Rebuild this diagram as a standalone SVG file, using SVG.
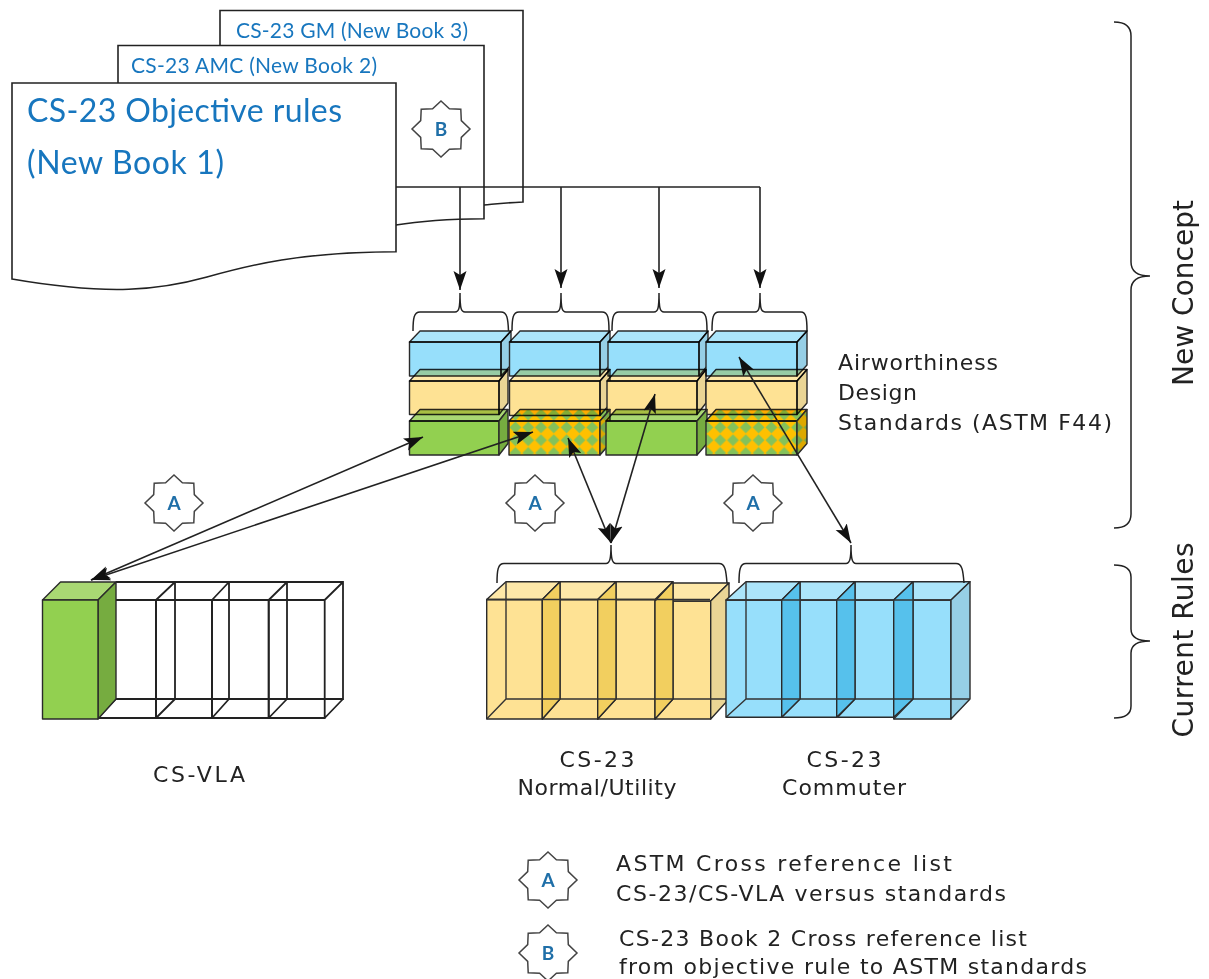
<svg xmlns="http://www.w3.org/2000/svg" width="1209" height="979" viewBox="0 0 1209 979">
<style>
.e{stroke:#2a2a2a;stroke-width:1.4;stroke-linejoin:round}
.h{fill:none;stroke:#333;stroke-width:1.4}
.wf{fill:none;stroke:#222;stroke-width:1.8}
.doc{fill:#fff;stroke:#222;stroke-width:1.6}
.br{fill:none;stroke:#222;stroke-width:1.5}
.yf{fill:#FEE294}.yt{fill:#FEE8A8}.ys{fill:#EAD595}.yx{fill:#F2CF5F}
.bf{fill:#97DFFB}.bt{fill:#ACE5FA}.bs{fill:#96CFE6}.bx{fill:#56C1EC}
.gf{fill:#92D050}.gt{fill:#A9D873}.gs{fill:#76AC40}
.pf{fill:url(#chk)}.ps{fill:url(#chkd)}
.m{mix-blend-mode:multiply}
.star{fill:#fff;stroke:#444;stroke-width:1.5;stroke-linejoin:miter}
.sl{font-family:"Lato","Liberation Sans",sans-serif;font-weight:700;font-size:19px;fill:#1F6FA8;text-anchor:middle}
.bk{font-family:"Lato","Liberation Sans",sans-serif;fill:#1776BE}
.t{font-family:"DejaVu Sans","Liberation Sans",sans-serif;font-size:22px;fill:#222}
.v{font-size:28px}
.c{text-anchor:middle}
.con{fill:none;stroke:#222;stroke-width:1.6}
</style>
<defs>
<pattern id="chk" width="12.8" height="12.8" patternUnits="userSpaceOnUse" x="509" y="421"><rect width="12.8" height="12.8" fill="#FFC000"/><polygon points="6.4,0.5 12.3,6.4 6.4,12.3 0.5,6.4" fill="#84C25A"/></pattern>
<pattern id="chkd" width="12.8" height="12.8" patternUnits="userSpaceOnUse" x="509" y="421"><rect width="12.8" height="12.8" fill="#DDA800"/><polygon points="6.4,0.5 12.3,6.4 6.4,12.3 0.5,6.4" fill="#74A84C"/></pattern>
<marker id="ah" markerUnits="userSpaceOnUse" markerWidth="20" markerHeight="14" viewBox="0 0 20 14" refX="19" refY="7" orient="auto-start-reverse"><path d="M0,0.5 L19,7 L0,13.5 L4,7 Z" fill="#111"/></marker>
<polygon id="s8" points="0,-28 8.4,-20.3 19.8,-19.8 20.3,-8.4 29,0 20.3,8.4 19.8,19.8 8.4,20.3 0,28 -8.4,20.3 -19.8,19.8 -20.3,8.4 -29,0 -20.3,-8.4 -19.8,-19.8 -8.4,-20.3"/>
</defs>

<g id="book3"><path class="doc" d="M220,10.500H523V202C500,203 495,204 484,205H220Z"/><text class="bk" x="236" y="38" font-size="21" textLength="232">CS-23 GM (New Book 3)</text></g>
<g id="book2"><path class="doc" d="M118,45.500H484V218.700C450,219 420,221 396,225H118Z"/><text class="bk" x="131" y="73" font-size="21" textLength="246">CS-23 AMC (New Book 2)</text></g>
<g id="star-b"><use href="#s8" class="star" x="441" y="129"/><text class="sl" x="441" y="136">B</text></g>
<g id="book1"><path class="doc" d="M12,83H396V251.700C300,252 250,265 207,277C160,290 110,296 12,279Z"/>
<text class="bk" x="27" y="122" font-size="32" textLength="315">CS-23 Objective rules</text><text class="bk" x="27" y="174" font-size="32" textLength="197">(New Book 1)</text></g>

<g id="standards">
<g id="b1"><rect class="e bf" x="409.500" y="342" width="91.500" height="34"/><polygon class="e bt m" points="409.500,342 501,342 511,331 420,331"/><polygon class="e bs m" points="501,342 511,331 511,365 501,376"/></g>
<g id="b2"><rect class="e bf" x="509.500" y="342" width="90.500" height="34"/><polygon class="e bt m" points="509.500,342 600,342 610,331 520,331"/><polygon class="e bs m" points="600,342 610,331 610,365 600,376"/></g>
<g id="b3"><rect class="e bf" x="608" y="342" width="91" height="34"/><polygon class="e bt m" points="608,342 699,342 708,331 618,331"/><polygon class="e bs m" points="699,342 708,331 708,365 699,376"/></g>
<g id="b4"><rect class="e bf" x="706" y="342" width="91" height="34"/><polygon class="e bt m" points="706,342 797,342 807,331 716,331"/><polygon class="e bs m" points="797,342 807,331 807,365 797,376"/></g>
<g id="y1"><rect class="e yf" x="409.500" y="381" width="89.500" height="33.500"/><polygon class="e yt m" points="409.500,381 499,381 508,369.500 420,369.500"/><polygon class="e ys m" points="499,381 508,369.500 508,403 499,414.500"/></g>
<g id="y2"><rect class="e yf" x="509.500" y="381" width="90.500" height="34.500"/><polygon class="e yt m" points="509.500,381 600,381 610,369.500 520,369.500"/><polygon class="e ys m" points="600,381 610,369.500 610,404 600,415.500"/></g>
<g id="y3"><rect class="e yf" x="607" y="381" width="90" height="33.500"/><polygon class="e yt m" points="607,381 697,381 706,369.500 617,369.500"/><polygon class="e ys m" points="697,381 706,369.500 706,403 697,414.500"/></g>
<g id="y4"><rect class="e yf" x="706" y="381" width="91" height="33.500"/><polygon class="e yt m" points="706,381 797,381 807,369.500 716,369.500"/><polygon class="e ys m" points="797,381 807,369.500 807,403 797,414.500"/></g>
<g id="g1"><rect class="e gf" x="409.500" y="421" width="89.500" height="34"/><polygon class="e gt m" points="409.500,421 499,421 508,409.500 420,409.500"/><polygon class="e gs" points="499,421 508,409.500 508,443.500 499,455"/></g>
<g id="p2"><rect class="e pf" x="509" y="421" width="91" height="34"/><polygon class="e pf m" points="509,421 600,421 610,409.500 520,409.500"/><polygon class="e ps" points="600,421 610,409.500 610,443.500 600,455"/></g>
<g id="g3"><rect class="e gf" x="606" y="421" width="91" height="34"/><polygon class="e gt m" points="606,421 697,421 707,409.500 616,409.500"/><polygon class="e gs" points="697,421 707,409.500 707,443.500 697,455"/></g>
<g id="p4"><rect class="e pf" x="706" y="421" width="91" height="34"/><polygon class="e pf m" points="706,421 797,421 807,409.500 716,409.500"/><polygon class="e ps" points="797,421 807,409.500 807,443.500 797,455"/></g>
</g>

<g id="top-braces">
<path class="br" d="M413,331C413,318 414,312 420,312H455C459,312 460,308 460,293C460,308 461,312 465,312H501C507,312 508,318 508.500,331"/>
<path class="br" d="M512,331C512,318 513,312 519,312H556C560,312 561,308 561,293C561,308 562,312 566,312H602C608,312 609,318 609,331"/>
<path class="br" d="M612,331C612,318 613,312 619,312H654C658,312 659,308 659,293C659,308 660,312 664,312H700C706,312 707,318 707,331"/>
<path class="br" d="M712,331C712,318 713,312 719,312H755C759,312 760,308 760,293C760,308 761,312 765,312H801C806,312 807,318 807,331"/>
</g>

<g id="vla">
<g id="vla4"><path class="wf" d="M268.700,600H324.700V718H268.700ZM287,582H343V699H287ZM324.700,600L343,582M324.700,718L343,699M268.700,600L287,582M268.700,718L287,699"/></g>
<g id="vla3"><path class="wf" d="M212,600H268.700V718H212ZM229,582H287M229,582V699H287M212,600L229,582M212,718L229,699"/></g>
<g id="vla2"><path class="wf" d="M156,600H212V718H156ZM175,582H229M175,582V699H229M156,600L175,582M156,718L175,699"/></g>
<g id="vla1"><path class="wf" d="M98,600H156V718H98ZM116,582H175M116,699H175M98,718L116,699"/></g>
<g id="vla0"><polygon class="e gt" points="42.500,600 98,600 116,582 60.500,582"/><polygon class="e gs" points="98,600 116,582 116,699 98,719"/><rect class="e" x="42.500" y="600" width="55.500" height="119" fill="#92D050"/></g>
<text class="t c" x="199" y="782" textLength="92">CS-VLA</text>
</g>

<g id="normal">
<g id="n4"><rect class="e yf" x="655" y="601" width="55.700" height="118"/><polygon class="e yt" points="655,601 710.700,601 729,583 673,583"/><polygon class="e ys" points="710.700,601 729,583 729,699 710.700,719"/><path class="h" d="M673,583V699H729M673,699L655,719"/></g>
<g id="n3"><rect class="e yf" x="597.700" y="599.500" width="57.300" height="119.500"/><polygon class="e yt" points="597.700,599.500 655,599.500 673,581.700 616,581.700"/><polygon class="e yx" points="655,601 673,581.700 673,699 655,719"/><path class="h" d="M616,581.700V699H673M616,699L597.700,719"/></g>
<g id="n2"><rect class="e yf" x="542.300" y="599.500" width="55.400" height="119.500"/><polygon class="e yt" points="542.300,599.500 597.700,599.500 616,581.700 560,581.700"/><polygon class="e yx" points="597.700,599.500 616,581.700 616,699 597.700,719"/><path class="h" d="M560,581.700V699H616M560,699L542.300,719"/></g>
<g id="n1"><rect class="e yf" x="486.700" y="599.500" width="55.600" height="119.500"/><polygon class="e yt" points="486.700,599.500 542.300,599.500 560,581.700 506,581.700"/><polygon class="e yx" points="542.300,599.500 560,581.700 560,699 542.300,719"/><path class="h" d="M506,581.700V699H560M506,699L486.700,719"/><path class="h" d="M486.700,599.500H710"/></g>
<text class="t c" x="597" y="767" textLength="75">CS-23</text><text class="t c" x="597" y="795" textLength="159">Normal/Utility</text>
</g>

<g id="commuter">
<g id="c4"><rect class="e bf" x="893.700" y="600" width="57.300" height="119"/><polygon class="e bt" points="893.700,600 951,600 970,581.700 913,581.700"/><polygon class="e bs" points="951,600 970,581.700 970,699 951,719"/><path class="h" d="M913,581.700V699H970M913,699L893.700,719"/></g>
<g id="c3"><rect class="e bf" x="837.700" y="600" width="56" height="117.300"/><polygon class="e bt" points="837.700,600 893.700,600 913,581.700 855,581.700"/><polygon class="e bx" points="893.700,600 913,581.700 913,699 893.700,717.300"/><path class="h" d="M855,581.700V699H913M855,699L837.700,717.300"/></g>
<g id="c2"><rect class="e bf" x="781.700" y="600" width="55" height="117.300"/><polygon class="e bt" points="781.700,600 836.700,600 855,581.700 800,581.700"/><polygon class="e bx" points="836.700,600 855,581.700 855,699 836.700,717.300"/><path class="h" d="M800,581.700V699H855M800,699L781.700,717.300"/></g>
<g id="c1"><rect class="e bf" x="726" y="600" width="55.700" height="117.300"/><polygon class="e bt" points="726,600 781.700,600 800,581.700 746,581.700"/><polygon class="e bx" points="781.700,600 800,581.700 800,699 781.700,717.300"/><path class="h" d="M746,581.700V699H800M746,699L726,717.300"/><path class="h" d="M726,600H951"/></g>
<text class="t c" x="844" y="767" textLength="75">CS-23</text><text class="t c" x="844" y="795" textLength="124">Commuter</text>
</g>

<g id="bottom-braces">
<path class="br" d="M497,583C497,570 498,563.500 504,563.500H606C610,563.500 611,558 611,545C611,558 612,563.500 616,563.500H719C725,563.500 726,570 727,583"/>
<path class="br" d="M739,583C739,570 740,563.500 746,563.500H846C850,563.500 851,558 851,545C851,558 852,563.500 856,563.500H956C962,563.500 963,570 964,583"/>
</g>

<g id="big-braces">
<path class="br" d="M1114,22Q1131,22 1131,36V262Q1131,276 1150,276Q1131,276 1131,290V514Q1131,528 1114,528"/>
<path class="br" d="M1114,565Q1131,565 1131,577V629Q1131,641 1150,641Q1131,641 1131,653V706Q1131,718 1114,718"/>
</g>

<g id="connectors">
<path class="con" d="M396,187H760"/>
<path class="con" marker-end="url(#ah)" d="M460,187V290"/>
<path class="con" marker-end="url(#ah)" d="M561,187V288"/>
<path class="con" marker-end="url(#ah)" d="M659,187V288"/>
<path class="con" marker-end="url(#ah)" d="M760,187V288"/>
<path class="con" marker-start="url(#ah)" marker-end="url(#ah)" d="M91,580L423,437"/>
<path class="con" marker-start="url(#ah)" marker-end="url(#ah)" d="M91,580L533,432"/>
<path class="con" marker-start="url(#ah)" marker-end="url(#ah)" d="M611,543L568,438"/>
<path class="con" marker-start="url(#ah)" marker-end="url(#ah)" d="M611,543L655,394"/>
<path class="con" marker-start="url(#ah)" marker-end="url(#ah)" d="M851,543L739,357"/>
</g>

<g id="star-a1"><use href="#s8" class="star" x="174" y="503"/><text class="sl" x="174" y="510">A</text></g>
<g id="star-a2"><use href="#s8" class="star" x="535" y="503"/><text class="sl" x="535" y="510">A</text></g>
<g id="star-a3"><use href="#s8" class="star" x="753" y="503"/><text class="sl" x="753" y="510">A</text></g>

<g id="adf-label"><text class="t" x="838" y="370" textLength="160">Airworthiness</text><text class="t" x="838" y="400" textLength="79">Design</text><text class="t" x="838" y="430" textLength="274">Standards (ASTM F44)</text></g>
<g id="scope-labels"><text class="t c v" transform="translate(1193,293) rotate(-90)" textLength="186">New Concept</text><text class="t c v" transform="translate(1193,640) rotate(-90)" textLength="195">Current Rules</text></g>

<g id="legend-a"><use href="#s8" class="star" x="548" y="880"/><text class="sl" x="548" y="887">A</text><text class="t" x="616" y="871" textLength="336">ASTM Cross reference list</text><text class="t" x="616" y="901" textLength="390">CS-23/CS-VLA versus standards</text></g>
<g id="legend-b"><use href="#s8" class="star" x="548" y="953"/><text class="sl" x="548" y="960">B</text><text class="t" x="619" y="946" textLength="408">CS-23 Book 2 Cross reference list</text><text class="t" x="619" y="974" textLength="468">from objective rule to ASTM standards</text></g>
</svg>
